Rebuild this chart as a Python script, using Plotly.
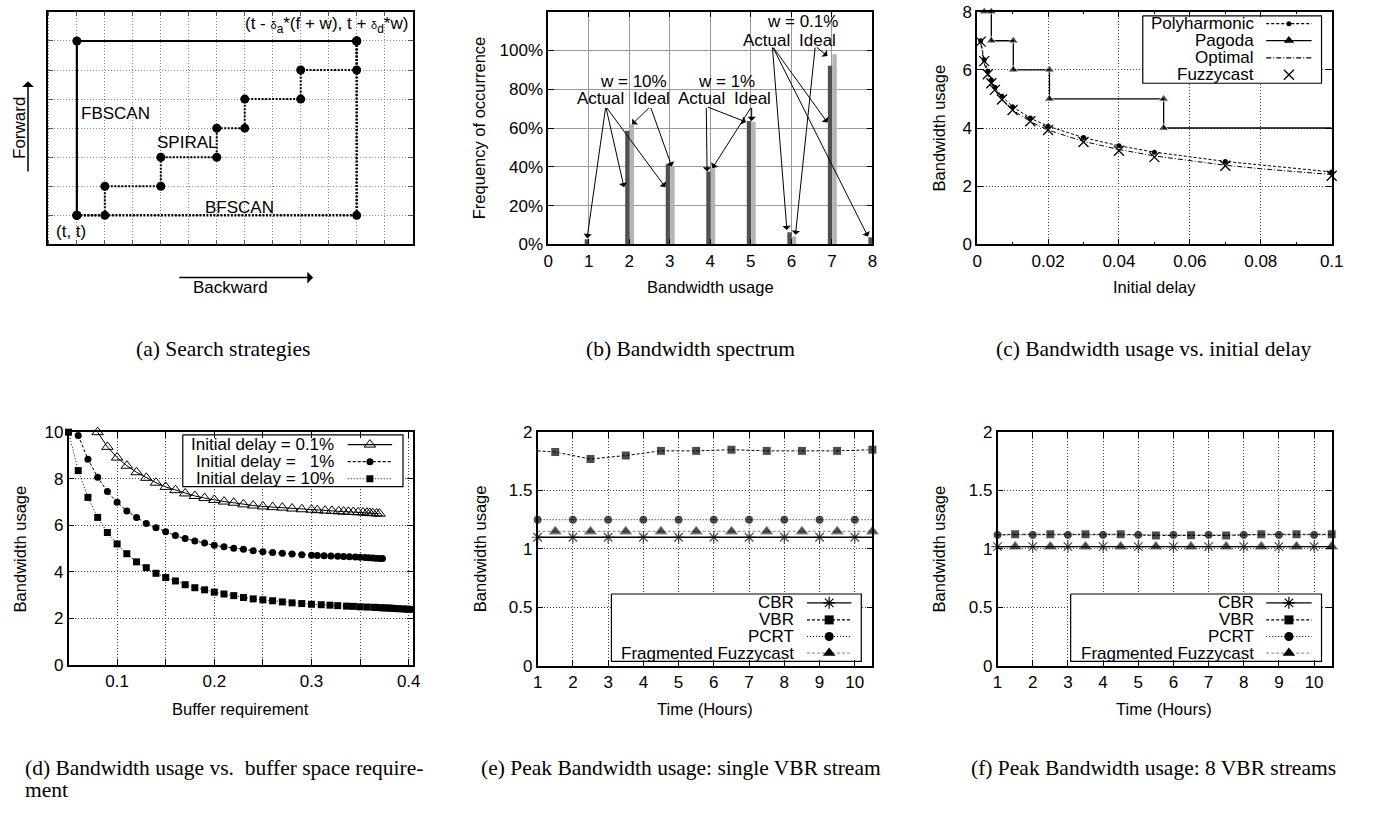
import plotly.graph_objects as go

W, H = 1375, 814
SANS = "Liberation Sans, Arial, Helvetica, sans-serif"
SERIF = "Liberation Serif, Times New Roman, serif"

# ---------------- data ----------------
# (a) search strategies, grid units
fbscan_x = [1, 1, 11]
fbscan_y = [1, 7, 7]
bfscan_x = [1, 11, 11]
bfscan_y = [1, 1, 7]
spiral_x = [1, 2, 2, 4, 4, 6, 6, 7, 7, 9, 9, 11, 11]
spiral_y = [1, 1, 2, 2, 3, 3, 4, 4, 5, 5, 6, 6, 7]

# (b) bandwidth spectrum (percent)
bw_levels = [1, 2, 3, 4, 5, 6, 7, 8]
freq_actual = [2.7, 58.6, 41.3, 37.6, 63.6, 6.2, 92.1, 3.7]
freq_ideal = [0, 61.9, 40.1, 39.3, 63.1, 4.0, 98.0, 0]
spec_labels = [("w = 10%", 2.11, 84.0), ("Actual", 1.30, 75.3), ("Ideal", 2.54, 75.3),
               ("w = 1%", 4.39, 84.0), ("Actual", 3.78, 75.3), ("Ideal", 5.04, 75.3),
               ("w = 0.1%", 6.28, 114.8), ("Actual", 5.39, 105.2), ("Ideal", 6.65, 105.2)]
# (tail x, tail y, head x, head y)
spec_arrows = [(1.42, 71.1, 0.96, 3.2), (1.42, 71.1, 1.87, 29.5), (1.42, 71.1, 2.89, 29.5),
               (2.52, 71.1, 2.07, 61.9), (2.52, 71.1, 3.05, 40.1),
               (3.90, 71.1, 3.92, 37.6), (3.90, 71.1, 4.88, 63.1),
               (5.02, 71.1, 4.05, 39.3), (5.02, 71.1, 5.02, 63.6),
               (5.53, 102.2, 5.89, 7.4), (5.53, 102.2, 6.89, 62.8), (5.53, 102.2, 7.89, 4.0),
               (6.59, 102.2, 6.10, 4.9), (6.59, 102.2, 6.89, 97.1)]

# (c) bandwidth vs initial delay
poly_delay = [0.001, 0.002, 0.003, 0.004, 0.005, 0.007, 0.01, 0.015, 0.02, 0.03, 0.04, 0.05, 0.07, 0.1]
poly_bw = [7.0, 6.35, 5.96, 5.65, 5.40, 5.09, 4.73, 4.34, 4.06, 3.67, 3.39, 3.17, 2.85, 2.49]
pagoda_delay = [0.002, 0.004, 0.004, 0.0102, 0.0102, 0.0204, 0.0204, 0.0526, 0.0526, 0.1]
pagoda_bw = [8, 8, 7, 7, 6, 6, 5, 5, 4, 4]
opt_delay = [0.001, 0.002, 0.003, 0.004, 0.005, 0.007, 0.01, 0.015, 0.02, 0.03, 0.04, 0.05,
             0.06, 0.07, 0.08, 0.09, 0.1]
opt_bw = [6.91, 6.22, 5.81, 5.53, 5.30, 4.97, 4.62, 4.22, 3.93, 3.54, 3.26, 3.04,
          2.87, 2.72, 2.60, 2.50, 2.40]
fuzzy_delay = [0.001, 0.002, 0.003, 0.004, 0.005, 0.007, 0.01, 0.015, 0.02, 0.03, 0.04, 0.05, 0.07, 0.1]
fuzzy_bw = [6.97, 6.30, 5.85, 5.54, 5.31, 4.98, 4.62, 4.23, 3.93, 3.52, 3.22, 3.00, 2.70, 2.36]

# (d) bandwidth vs buffer requirement
buf_01 = [0.08, 0.09, 0.10, 0.11, 0.12, 0.13, 0.14, 0.15, 0.16, 0.17, 0.18, 0.19, 0.20, 0.21,
          0.22, 0.23, 0.24, 0.25, 0.26, 0.27, 0.28, 0.29, 0.30, 0.306, 0.314, 0.321, 0.328,
          0.333, 0.338, 0.343, 0.348, 0.353, 0.357, 0.360, 0.363, 0.367, 0.370]
bwu_01 = [10.0, 9.37, 8.91, 8.56, 8.28, 8.04, 7.83, 7.65, 7.51, 7.37, 7.26, 7.17, 7.09, 7.02,
          6.97, 6.90, 6.85, 6.81, 6.78, 6.76, 6.72, 6.69, 6.67, 6.65, 6.63, 6.62, 6.60,
          6.59, 6.58, 6.57, 6.56, 6.55, 6.54, 6.53, 6.52, 6.51, 6.50]
buf_1 = [0.06, 0.07, 0.08, 0.09, 0.10, 0.11, 0.12, 0.13, 0.14, 0.15, 0.16, 0.17, 0.18, 0.19,
         0.20, 0.21, 0.22, 0.23, 0.24, 0.25, 0.26, 0.27, 0.28, 0.29, 0.30, 0.306, 0.313,
         0.320, 0.327, 0.333, 0.339, 0.345, 0.350, 0.355, 0.359, 0.363, 0.366, 0.370, 0.373]
bwu_1 = [9.86, 8.84, 8.06, 7.45, 6.99, 6.62, 6.34, 6.08, 5.90, 5.72, 5.56, 5.43, 5.33, 5.24,
         5.14, 5.08, 5.01, 4.97, 4.91, 4.86, 4.83, 4.80, 4.77, 4.74, 4.72, 4.70, 4.69,
         4.68, 4.67, 4.66, 4.65, 4.64, 4.63, 4.62, 4.61, 4.60, 4.59, 4.58, 4.57]
buf_10 = [0.05, 0.06, 0.07, 0.08, 0.09, 0.10, 0.11, 0.12, 0.13, 0.14, 0.15, 0.16, 0.17, 0.18,
          0.19, 0.20, 0.21, 0.22, 0.23, 0.24, 0.25, 0.26, 0.27, 0.28, 0.29, 0.30, 0.310,
          0.319, 0.327, 0.336, 0.343, 0.350, 0.357, 0.364, 0.367, 0.372, 0.375, 0.379,
          0.382, 0.386, 0.389, 0.394, 0.398, 0.401]
bwu_10 = [10.0, 8.35, 7.20, 6.34, 5.69, 5.20, 4.78, 4.43, 4.18, 3.94, 3.76, 3.61, 3.45, 3.32,
          3.23, 3.13, 3.05, 2.98, 2.90, 2.84, 2.80, 2.76, 2.71, 2.67, 2.64, 2.61, 2.59,
          2.57, 2.55, 2.53, 2.52, 2.50, 2.49, 2.48, 2.47, 2.46, 2.45, 2.45,
          2.44, 2.43, 2.42, 2.41, 2.40, 2.39]

# (e) single VBR stream
hours_int = [1, 2, 3, 4, 5, 6, 7, 8, 9, 10, 10.5]
hours_half = [1, 1.5, 2.5, 3.5, 4.5, 5.5, 6.5, 7.5, 8.5, 9.5, 10.5]
e_cbr = [1.10, 1.10, 1.10, 1.10, 1.10, 1.10, 1.10, 1.10, 1.10, 1.10, 1.10]
e_pcrt = [1.25, 1.25, 1.25, 1.25, 1.25, 1.25, 1.25, 1.25, 1.25, 1.25, 1.25]
e_vbr = [1.84, 1.83, 1.77, 1.80, 1.84, 1.84, 1.85, 1.84, 1.84, 1.84, 1.85]
e_frag = [1.15, 1.15, 1.15, 1.15, 1.15, 1.15, 1.15, 1.15, 1.15, 1.15, 1.15]

# (f) 8 VBR streams
f_cbr = [1.02, 1.02, 1.02, 1.02, 1.02, 1.02, 1.02, 1.02, 1.02, 1.02, 1.02]
f_pcrt = [1.12, 1.12, 1.12, 1.12, 1.12, 1.12, 1.12, 1.12, 1.12, 1.12, 1.12]
f_vbr = [1.12, 1.125, 1.125, 1.125, 1.125, 1.115, 1.117, 1.115, 1.125, 1.125, 1.125]
f_frag = [1.02, 1.02, 1.02, 1.02, 1.02, 1.02, 1.02, 1.02, 1.02, 1.02, 1.02]

# ---------------- layout geometry (pixels) ----------------
PANEL = {
    'a': (43.3, 413.3, 2.7, 241.0),
    'b': (550.0, 878.3, 2.7, 241.0),
    'c': (984.3, 1343.3, 2.7, 241.0),
    'd': (64.3, 412.7, 433.3, 671.7),
    'e': (539.3, 878.3, 433.3, 672.3),
    'f': (1005.0, 1343.3, 433.3, 672.3),
}
RANGE = {
    'a': ([-0.04, 13.02], [0, 8.01]),
    'b': ([0, 8], [0, 120]),
    'c': ([0, 0.1], [0, 8]),
    'd': ([0.05, 0.404], [0, 10]),
    'e': ([1, 10.5], [0, 2]),
    'f': ([1, 10.5], [0, 2]),
}
AXN = {'a': '', 'b': '2', 'c': '3', 'd': '4', 'e': '5', 'f': '6'}

DASH = "3px,2px"
DOT = "1px,2px"
DASHDOT = "5px,2px,1px,2px"
GRID_DASH = "1px,2px"


def dom(p):
    x0, x1, y0, y1 = PANEL[p]
    return [x0 / W, x1 / W], [1 - y1 / H, 1 - y0 / H]


def px_to_data(p, px, py):
    x0, x1, y0, y1 = PANEL[p]
    (xr0, xr1), (yr0, yr1) = RANGE[p]
    return (xr0 + (px - x0) / (x1 - x0) * (xr1 - xr0),
            yr0 + (y1 - py) / (y1 - y0) * (yr1 - yr0))


fig = go.Figure()
annotations = []


def xy(p):
    n = AXN[p]
    return 'x' + n, 'y' + n


def text(x, y, s, size=17, xanchor='center', angle=0, family=SANS):
    annotations.append(dict(x=x, y=y, xref='x7', yref='y7', text=s, showarrow=False,
                            xanchor=xanchor, yanchor='middle', textangle=angle,
                            font=dict(family=family, size=size, color='black')))


def axis(p, which, **kw):
    xd, yd = dom(p)
    n = AXN[p]
    d = dict(domain=xd if which == 'x' else yd, range=RANGE[p][0 if which == 'x' else 1],
             anchor=('y' if which == 'x' else 'x') + n,
             showline=True, linecolor='black', linewidth=1.5, mirror='allticks',
             ticks='inside', ticklen=6, tickwidth=1, tickcolor='black',
             showgrid=True, gridcolor='#444', griddash=GRID_DASH, gridwidth=1,
             zeroline=False, fixedrange=True,
             tickfont=dict(family=SANS, size=17, color='black'))
    d.update(kw)
    return d


def scat(p, x, y, mode, line=None, marker=None):
    xa, ya = xy(p)
    fig.add_trace(go.Scatter(x=x, y=y, mode=mode, line=line, marker=marker, xaxis=xa, yaxis=ya,
                             showlegend=False, cliponaxis=False, hoverinfo='skip'))


# ---------------- legend geometry ----------------
LEG = {
    'c': dict(box=(1152, 7, 1333, 76), tr=1267, s0=1277, s1=1323, rows=[15, 32.3, 50, 67.3]),
    'd': dict(box=(180, 436, 403, 489), tr=335, s0=347, s1=392, rows=[446, 463.5, 481]),
    'e': dict(box=(614, 599, 867, 668), tr=801, s0=812, s1=857, rows=[608, 625.5, 642.5, 659.5]),
    'f': dict(box=(1079, 599, 1333, 668), tr=1267, s0=1277, s1=1323, rows=[608, 625.5, 642.5, 659.5]),
}


def legend_box(p):
    bx0, by0, bx1, by1 = LEG[p]['box']
    xa0, ya0 = px_to_data(p, bx0, by0)
    xa1, ya1 = px_to_data(p, bx1, by1)
    xa, ya = xy(p)
    fig.add_trace(go.Scatter(x=[xa0, xa1, xa1, xa0, xa0], y=[ya0, ya0, ya1, ya1, ya0],
                             mode='lines', fill='toself', fillcolor='white',
                             line=dict(color='black', width=1.2), xaxis=xa, yaxis=ya,
                             showlegend=False, hoverinfo='skip'))


def legend_entries(p, entries):
    g = LEG[p]
    sx0, sx1 = g['s0'], g['s1']
    for (label, ldash, lcolor, msym, msize, mline), ry in zip(entries, g['rows']):
        text(g['tr'], ry, label, xanchor='right')
        if ldash is not None:
            fig.add_trace(go.Scatter(x=[sx0, sx1], y=[ry, ry], mode='lines',
                                     line=dict(color=lcolor, width=1.2, dash=ldash),
                                     xaxis='x7', yaxis='y7', showlegend=False, hoverinfo='skip'))
        if msym is not None:
            fig.add_trace(go.Scatter(x=[(sx0 + sx1) / 2], y=[ry], mode='markers',
                                     marker=dict(symbol=msym, size=msize, color='black',
                                                 line=dict(width=mline, color='black')),
                                     xaxis='x7', yaxis='y7', showlegend=False, hoverinfo='skip',
                                     cliponaxis=False))


# ---------------- (a) ----------------
mk_a = dict(symbol='circle', size=9, color='black')
scat('a', bfscan_x, bfscan_y, 'lines+markers', dict(color='black', width=2.5, dash="2px,1.5px"), mk_a)
scat('a', spiral_x, spiral_y, 'lines+markers', dict(color='black', width=2, dash="2px,1.5px"), mk_a)
scat('a', fbscan_x, fbscan_y, 'lines+markers', dict(color='black', width=2.2), mk_a)

# ---------------- (b) ----------------
fig.add_trace(go.Bar(x=bw_levels, y=freq_actual, width=0.11, offset=-0.1, marker=dict(color='#505050', line_width=0),
                     xaxis='x2', yaxis='y2', showlegend=False, hoverinfo='skip'))
fig.add_trace(go.Bar(x=bw_levels, y=freq_ideal, width=0.11, offset=0.01, marker=dict(color='#b4b4b4', line_width=0),
                     xaxis='x2', yaxis='y2', showlegend=False, hoverinfo='skip'))
for s, x, y in spec_labels:
    annotations.append(dict(x=x, y=y, xref='x2', yref='y2', text=s, showarrow=False, borderpad=0,
                            font=dict(family=SANS, size=17, color='black')))
for tx, ty, hx, hy in spec_arrows:
    annotations.append(dict(x=hx, y=hy, ax=tx, ay=ty, xref='x2', yref='y2', axref='x2', ayref='y2',
                            text='', showarrow=True, arrowhead=1, arrowsize=1.4, arrowwidth=1,
                            arrowcolor='black', standoff=0, startstandoff=0))

# ---------------- (c) ----------------
legend_box('c')
scat('c', opt_delay, opt_bw, 'lines', dict(color='black', width=1, dash=DASHDOT))
scat('c', poly_delay, poly_bw, 'lines+markers', dict(color='black', width=1, dash=DASH),
     dict(symbol='circle', size=5, color='black'))
pag_sizes = [9] * (len(pagoda_delay) - 1) + [0]
scat('c', pagoda_delay, pagoda_bw, 'lines+markers', dict(color='black', width=1.3),
     dict(symbol='triangle-up', size=pag_sizes, color='black'))
scat('c', fuzzy_delay, fuzzy_bw, 'markers', None,
     dict(symbol='x-thin-open', size=10, color='black', line=dict(width=1.3, color='black')))

# ---------------- (d) ----------------
legend_box('d')
scat('d', buf_10, bwu_10, 'lines+markers', dict(color='black', width=1, dash=DOT),
     dict(symbol='square', size=7, color='black'))
scat('d', buf_1, bwu_1, 'lines+markers', dict(color='black', width=1, dash=DASH),
     dict(symbol='circle', size=7, color='black'))
scat('d', buf_01, bwu_01, 'lines+markers', dict(color='black', width=1),
     dict(symbol='triangle-up-open', size=10, color='black', line=dict(width=1, color='black')))


# ---------------- (e), (f) ----------------
def on_int(xs, s):
    return [s if float(v).is_integer() else 0 for v in xs]


def on_half(xs, s):
    return [0 if float(v).is_integer() else s for v in xs]


for p, cbr, pcrt, vbr, frag in (('e', e_cbr, e_pcrt, e_vbr, e_frag), ('f', f_cbr, f_pcrt, f_vbr, f_frag)):
    legend_box(p)
    scat(p, hours_half, frag, 'lines+markers', dict(color='#999999', width=1.2, dash=DASH),
         dict(symbol='triangle-up', size=on_half(hours_half, 11), color='black'))
    scat(p, hours_int, pcrt, 'lines+markers', dict(color='black', width=1, dash=DOT),
         dict(symbol='circle', size=on_int(hours_int, 9), color='black'))
    scat(p, hours_half, vbr, 'lines+markers', dict(color='black', width=1, dash=DASH),
         dict(symbol='square', size=on_half(hours_half, 9), color='black'))
    scat(p, hours_int, cbr, 'lines+markers', dict(color='black', width=1.3),
         dict(symbol='asterisk-open', size=on_int(hours_int, 10), color='black',
              line=dict(width=1.2, color='black')))

# ---------------- legends entries (pixel overlay) ----------------
legend_entries('c', [
    ("Polyharmonic", DASH, 'black', 'circle', 5, 0),
    ("Pagoda", 'solid', 'black', 'triangle-up', 9, 0),
    ("Optimal", DASHDOT, 'black', None, 0, 0),
    ("Fuzzycast", None, 'black', 'x-thin-open', 10, 1.3),
])
legend_entries('d', [
    ("Initial delay = 0.1%", 'solid', 'black', 'triangle-up-open', 10, 1),
    ("Initial delay =\u00a0\u00a0\u00a01%", DASH, 'black', 'circle', 7, 0),
    ("Initial delay = 10%", DOT, 'black', 'square', 7, 0),
])
for p in ('e', 'f'):
    legend_entries(p, [
        ("CBR", 'solid', 'black', 'asterisk-open', 10, 1.2),
        ("VBR", DASH, 'black', 'square', 9, 0),
        ("PCRT", DOT, 'black', 'circle', 9, 0),
        ("Fragmented Fuzzycast", DASH, '#999999', 'triangle-up', 11, 0),
    ])

# ---------------- texts ----------------
# (a)
text(75, 107, "FBSCAN", xanchor='left')
text(152, 137, "SPIRAL", xanchor='left')
text(200, 203, "BFSCAN", xanchor='left')
text(50, 228, "(t, t)", xanchor='left')
text(410, 16, "(t - <span style='font-size:11px'>δ</span><sub>a</sub>*(f + w), t + "
              "<span style='font-size:11px'>δ</span><sub>d</sub>*w)", xanchor='right')
text(14, 122, "Forward", angle=-90)
text(228, 285, "Backward")
annotations.append(dict(x=23.3, y=74, ax=23.3, ay=168, xref='x7', yref='y7', axref='x7', ayref='y7',
                        text='', showarrow=True, arrowhead=1, arrowsize=1.3, arrowwidth=1.5,
                        arrowcolor='black', standoff=0))
annotations.append(dict(x=312, y=275, ax=175, ay=275, xref='x7', yref='y7', axref='x7', ayref='y7',
                        text='', showarrow=True, arrowhead=1, arrowsize=1.3, arrowwidth=1.5,
                        arrowcolor='black', standoff=0))
# axis titles
TS = 16.5
text(480, 122, "Frequency of occurrence", size=TS, angle=-90)
text(714, 285, "Bandwidth usage", size=TS)
text(946, 122, "Bandwidth usage", size=TS, angle=-90)
text(1164, 285, "Initial delay", size=TS)
text(15.5, 553, "Bandwidth usage", size=TS, angle=-90)
text(238, 717, "Buffer requirement", size=TS)
text(481, 553, "Bandwidth usage", size=TS, angle=-90)
text(709, 717, "Time (Hours)", size=TS)
text(946, 553, "Bandwidth usage", size=TS, angle=-90)
text(1174, 717, "Time (Hours)", size=TS)
# captions
CS = 21.5
text(221, 348, "(a) Search strategies", size=CS, family=SERIF)
text(694, 348, "(b) Bandwidth spectrum", size=CS, family=SERIF)
text(1163, 348, "(c) Bandwidth usage vs. initial delay", size=CS, family=SERIF)
text(18, 777, "(d) Bandwidth usage vs.\u00a0\u00a0buffer space require-", size=CS, family=SERIF, xanchor='left')
text(18, 800, "ment", size=CS, family=SERIF, xanchor='left')
text(684, 777, "(e) Peak Bandwidth usage: single VBR stream", size=CS, family=SERIF)
text(1163, 777, "(f) Peak Bandwidth usage: 8 VBR streams", size=CS, family=SERIF)

# ---------------- axes ----------------
MINOR_GRID = dict(ticks='inside', ticklen=6, tickcolor='black', showgrid=True,
                  gridcolor='#444', griddash=GRID_DASH, gridwidth=1)
lay = dict(
    xaxis=axis('a', 'x', dtick=1, tick0=0, showticklabels=False, gridcolor='#888',
               ticklen=5, tickcolor='#555'),
    yaxis=axis('a', 'y', dtick=1, tick0=0, showticklabels=False, gridcolor='#888',
               ticklen=5, tickcolor='#555'),
    xaxis2=axis('b', 'x', dtick=1, tick0=0, griddash='solid', gridcolor='#999'),
    yaxis2=axis('b', 'y', tickvals=[0, 20, 40, 60, 80, 100],
                ticktext=['0%', '20%', '40%', '60%', '80%', '100%'],
                griddash='solid', gridcolor='#999'),
    xaxis3=axis('c', 'x', tickvals=[0, 0.02, 0.04, 0.06, 0.08, 0.1],
                ticktext=['0', '0.02', '0.04', '0.06', '0.08', '0.1'],
                minor=dict(ticks='inside', ticklen=3, dtick=0.01, tick0=0, tickcolor='black', showgrid=False)),
    yaxis3=axis('c', 'y', tickvals=[0, 2, 4, 6, 8], ticktext=['0', '2', '4', '6', '8']),
    xaxis4=axis('d', 'x', tickvals=[0.1, 0.2, 0.3, 0.4], ticktext=['0.1', '0.2', '0.3', '0.4'],
                minor=dict(tickmode='array', tickvals=[0.15, 0.25, 0.35], **MINOR_GRID)),
    yaxis4=axis('d', 'y', tickvals=[0, 2, 4, 6, 8, 10], ticktext=['0', '2', '4', '6', '8', '10']),
    xaxis5=axis('e', 'x', tickvals=list(range(1, 11)), ticktext=[str(i) for i in range(1, 11)]),
    yaxis5=axis('e', 'y', tickvals=[0, 0.5, 1, 1.5, 2], ticktext=['0', '0.5', '1', '1.5', '2']),
    xaxis6=axis('f', 'x', tickvals=list(range(1, 11)), ticktext=[str(i) for i in range(1, 11)]),
    yaxis6=axis('f', 'y', tickvals=[0, 0.5, 1, 1.5, 2], ticktext=['0', '0.5', '1', '1.5', '2']),
    xaxis7=dict(domain=[0, 1], range=[0, W], visible=False, anchor='y7', fixedrange=True),
    yaxis7=dict(domain=[0, 1], range=[H, 0], visible=False, anchor='x7', fixedrange=True),
)

fig.update_layout(
    width=W, height=H, autosize=False,
    margin=dict(l=0, r=0, t=0, b=0, pad=0),
    paper_bgcolor='white', plot_bgcolor='rgba(0,0,0,0)',
    barmode='overlay', showlegend=False,
    annotations=annotations,
    font=dict(family=SANS, size=17, color='black'),
    **lay,
)

fig.write_html("out.html", config={'displayModeBar': False},
               post_script="document.body.style.margin='0';")
